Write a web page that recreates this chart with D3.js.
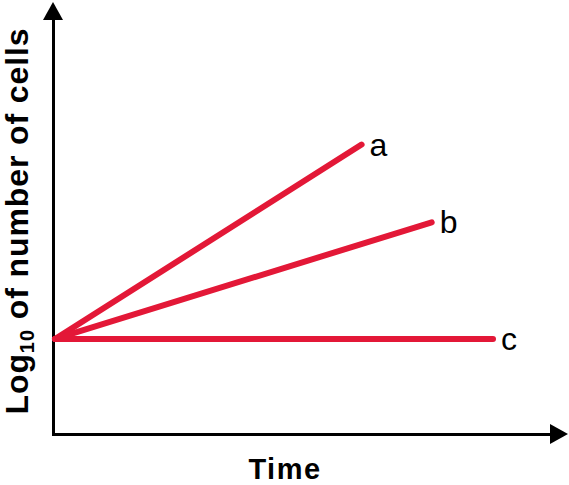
<!DOCTYPE html>
<html>
<head>
<meta charset="utf-8">
<script src="https://cdn.jsdelivr.net/npm/d3@7"></script>
<style>
  body { margin: 0; background: #fff; }
  svg { display: block; }
</style>
</head>
<body>
<svg id="chart"></svg>
<script>
// data: growth curves, log10 cells vs time (arbitrary units)
const seriesNames = ['a', 'b', 'c'];
const startPoint = {t: 0, v: 22};
const endTimes = [70, 86, 100];
const endValues = [67, 49, 22];

const red = '#e31837';

const width = 569, height = 485;

// axis frame
const origin = {x: 53, y: 434};
const xEnd = 568, yEnd = 2;

// scales
let x = d3.scaleLinear().domain([0, 100]).range([55, 493]);
let y = d3.scaleLinear().domain([0, 100]).range([origin.y, 2]);

const svg = d3.select('#chart')
    .attr('width', width)
    .attr('height', height);

// axes: no ticks, just arrowed lines
const xAxis = svg.append('g')
    .attr('transform', 'translate(0,' + origin.y + ')')
    .call(d3.axisBottom(d3.scaleLinear().range([origin.x - 1.5, xEnd - 16]))
        .tickValues([]).tickSizeOuter(0));
xAxis.select('.domain').attr('stroke', '#000').attr('stroke-width', 3);

const yAxis = svg.append('g')
    .attr('transform', 'translate(' + origin.x + ',0)')
    .call(d3.axisLeft(d3.scaleLinear().range([origin.y + 1.5, yEnd + 16]))
        .tickValues([]).tickSizeOuter(0));
yAxis.select('.domain').attr('stroke', '#000').attr('stroke-width', 3);

// arrow heads
svg.append('path')
    .attr('d', 'M' + xEnd + ',' + origin.y + 'L' + (xEnd - 18) + ',' + (origin.y - 10) +
        'L' + (xEnd - 18) + ',' + (origin.y + 10) + 'Z')
    .attr('fill', '#000');
svg.append('path')
    .attr('d', 'M' + origin.x + ',' + yEnd + 'L' + (origin.x - 10) + ',' + (yEnd + 18) +
        'L' + (origin.x + 10) + ',' + (yEnd + 18) + 'Z')
    .attr('fill', '#000');

// lines
const lines = seriesNames.map(function (name, i) {
    return {name: name, points: [startPoint, {t: endTimes[i], v: endValues[i]}]};
});

const valueline = d3.line()
    .x(function (d) { return x(d.t); })
    .y(function (d) { return y(d.v); });

svg.selectAll('.series')
    .data(lines)
    .enter().append('path')
    .attr('class', 'series')
    .attr('d', function (d) { return valueline(d.points); })
    .attr('fill', 'none')
    .attr('stroke', red)
    .attr('stroke-width', 6)
    .attr('stroke-linecap', 'round');

// end labels
svg.selectAll('.series-label')
    .data(lines)
    .enter().append('text')
    .attr('class', 'series-label')
    .attr('x', function (d) { return x(d.points[1].t) + 8; })
    .attr('y', function (d) { return y(d.points[1].v) + 11; })
    .attr('font-family', 'Liberation Sans, Arial, sans-serif')
    .attr('font-size', '32px')
    .attr('fill', '#000')
    .text(function (d) { return d.name; });

// axis titles
svg.append('text')
    .attr('x', 285)
    .attr('y', 479)
    .attr('text-anchor', 'middle')
    .attr('font-family', 'Liberation Sans, Arial, sans-serif')
    .attr('font-weight', 'bold')
    .attr('font-size', '29px')
    .attr('letter-spacing', '1.5px')
    .text('Time');

const ylab = svg.append('text')
    .attr('transform', 'translate(28,221) rotate(-90)')
    .attr('text-anchor', 'middle')
    .attr('font-family', 'Liberation Sans, Arial, sans-serif')
    .attr('font-weight', 'bold')
    .attr('font-size', '32px')
    .attr('letter-spacing', '0.9px');
ylab.append('tspan').text('Log');
ylab.append('tspan').attr('font-size', '20px').attr('dy', 6).text('10');
ylab.append('tspan').attr('dy', -6).text(' of number of cells');
</script>
</body>
</html>
